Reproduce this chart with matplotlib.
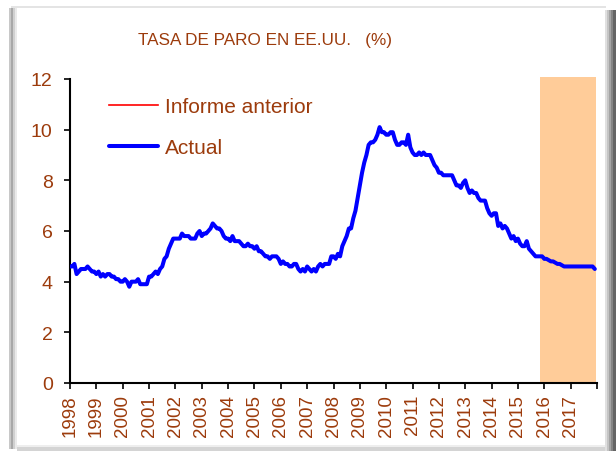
import matplotlib
matplotlib.use("Agg")
import matplotlib.pyplot as plt
import matplotlib.patches as mpatches
import numpy as np

plt.rcParams['font.family'] = ['Liberation Sans', 'DejaVu Sans']

title = "TASA DE PARO EN EE.UU.   (%)"
series_labels = ["Informe anterior", "Actual"]
years = list(range(1998, 2018))
year_labels = [str(y) for y in years]
y_ticks = [0, 2, 4, 6, 8, 10, 12]

# Monthly unemployment rate (%), Jan 1998 - Dec 2017
actual = [
    4.6, 4.6, 4.7, 4.3, 4.4, 4.5, 4.5, 4.5, 4.6, 4.5, 4.4, 4.4,   # 1998
    4.3, 4.4, 4.2, 4.3, 4.2, 4.3, 4.3, 4.2, 4.2, 4.1, 4.1, 4.0,   # 1999
    4.0, 4.1, 4.0, 3.8, 4.0, 4.0, 4.0, 4.1, 3.9, 3.9, 3.9, 3.9,   # 2000
    4.2, 4.2, 4.3, 4.4, 4.3, 4.5, 4.6, 4.9, 5.0, 5.3, 5.5, 5.7,   # 2001
    5.7, 5.7, 5.7, 5.9, 5.8, 5.8, 5.8, 5.7, 5.7, 5.7, 5.9, 6.0,   # 2002
    5.8, 5.9, 5.9, 6.0, 6.1, 6.3, 6.2, 6.1, 6.1, 6.0, 5.8, 5.7,   # 2003
    5.7, 5.6, 5.8, 5.6, 5.6, 5.6, 5.5, 5.4, 5.4, 5.5, 5.4, 5.4,   # 2004
    5.3, 5.4, 5.2, 5.2, 5.1, 5.0, 5.0, 4.9, 5.0, 5.0, 5.0, 4.9,   # 2005
    4.7, 4.8, 4.7, 4.7, 4.6, 4.6, 4.7, 4.7, 4.5, 4.4, 4.5, 4.4,   # 2006
    4.6, 4.5, 4.4, 4.5, 4.4, 4.6, 4.7, 4.6, 4.7, 4.7, 4.7, 5.0,   # 2007
    5.0, 4.9, 5.1, 5.0, 5.4, 5.6, 5.8, 6.1, 6.1, 6.5, 6.8, 7.3,   # 2008
    7.8, 8.3, 8.7, 9.0, 9.4, 9.5, 9.5, 9.6, 9.8, 10.1, 9.9, 9.9,  # 2009
    9.8, 9.8, 9.9, 9.9, 9.6, 9.4, 9.4, 9.5, 9.5, 9.4, 9.8, 9.3,   # 2010
    9.1, 9.0, 9.0, 9.1, 9.0, 9.1, 9.0, 9.0, 9.0, 8.8, 8.6, 8.5,   # 2011
    8.3, 8.3, 8.2, 8.2, 8.2, 8.2, 8.2, 8.0, 7.8, 7.8, 7.7, 7.9,   # 2012
    8.0, 7.7, 7.5, 7.6, 7.5, 7.5, 7.3, 7.2, 7.2, 7.2, 6.9, 6.7,   # 2013
    6.6, 6.7, 6.7, 6.2, 6.3, 6.1, 6.2, 6.1, 5.9, 5.7, 5.8, 5.6,   # 2014
    5.7, 5.5, 5.4, 5.4, 5.6, 5.3, 5.2, 5.1, 5.0, 5.0, 5.0, 5.0,   # 2015
    4.9, 4.9, 4.85, 4.8, 4.8, 4.75, 4.7, 4.7, 4.65, 4.6, 4.6, 4.6,  # 2016
    4.6, 4.6, 4.6, 4.6, 4.6, 4.6, 4.6, 4.6, 4.6, 4.6, 4.6, 4.5,   # 2017
]
previous = list(actual)

forecast_start = 2015.83
forecast_end = 2017.95

brown = '#9C3B0C'

fig = plt.figure(figsize=(6.16, 4.52), dpi=100)
W, H = 616, 452

def frect(x0, y0, x1, y1, color):
    # pixel coords (top-left origin) to figure fraction
    fig.patches.append(mpatches.Rectangle((x0 / W, 1 - y1 / H), (x1 - x0) / W, (y1 - y0) / H,
                                          transform=fig.transFigure, facecolor=color,
                                          edgecolor='none', zorder=0))

# chart frame with shadow
frect(11, 7, 606, 9, '#E4E4E4')
frect(9, 9, 11, 450, '#C8C8C8')
frect(11, 9, 13, 450, '#A8A8A8')
frect(13, 9, 15, 450, '#D0D0D0')
frect(15, 9, 17, 450, '#EAEAEA')
frect(17, 446, 605, 448, '#EEEEEE')
frect(17, 448, 605, 452, '#D4D4D4')
frect(605, 11, 607, 452, '#E0E0E0')
frect(607, 11, 609, 452, '#C4C4C4')
frect(609, 11, 611, 452, '#A4A4A4')
frect(611, 11, 613, 452, '#848484')
frect(613, 11, 616, 452, '#646464')

ax = fig.add_axes([70 / W, 68 / H, 527 / W, 304 / H])
ax.set_facecolor('none')

x = np.array([years[0] + i / 12 for i in range(len(actual))])

ax.axvspan(forecast_start, forecast_end, ymin=0, ymax=1.008, color='#FFCC99',
           zorder=1, clip_on=False, lw=0)
l1, = ax.plot(x, previous, color='red', lw=1.2, zorder=2, label=series_labels[0])
l2, = ax.plot(x, actual, color='#0000FF', lw=2.9, zorder=3, label=series_labels[1],
              solid_joinstyle='round', solid_capstyle='round')

ax.set_xlim(1998, 2018)
ax.set_ylim(0, 12)
ax.set_yticks(y_ticks)
ax.set_yticklabels([str(v) for v in y_ticks])
ax.set_xticks(years + [2018])
ax.set_xticklabels(year_labels + [''], rotation=90)

for s in ['top', 'right']:
    ax.spines[s].set_visible(False)
for s in ['left', 'bottom']:
    ax.spines[s].set_linewidth(1.5)
    ax.spines[s].set_color('black')
ax.tick_params(axis='y', direction='out', length=4.5, width=1.2, colors='black',
               labelcolor=brown, labelsize=14, pad=8)
ax.tick_params(axis='x', direction='out', length=4, width=1.2, colors='black',
               labelcolor=brown, labelsize=13.5, pad=4)

leg = ax.legend(handles=[l1, l2], loc='upper left', bbox_to_anchor=(0.074, 0.94),
                frameon=False, fontsize=15, handlelength=2.35, handletextpad=0.33,
                labelspacing=1.05, borderpad=0, borderaxespad=0)
for t in leg.get_texts():
    t.set_color(brown)

fig.text(0.5 * (142 + 388) / W, 1 - 40 / H, title, ha='center', va='center',
         color=brown, fontsize=12.3)

fig.savefig('out.png', dpi=100)
